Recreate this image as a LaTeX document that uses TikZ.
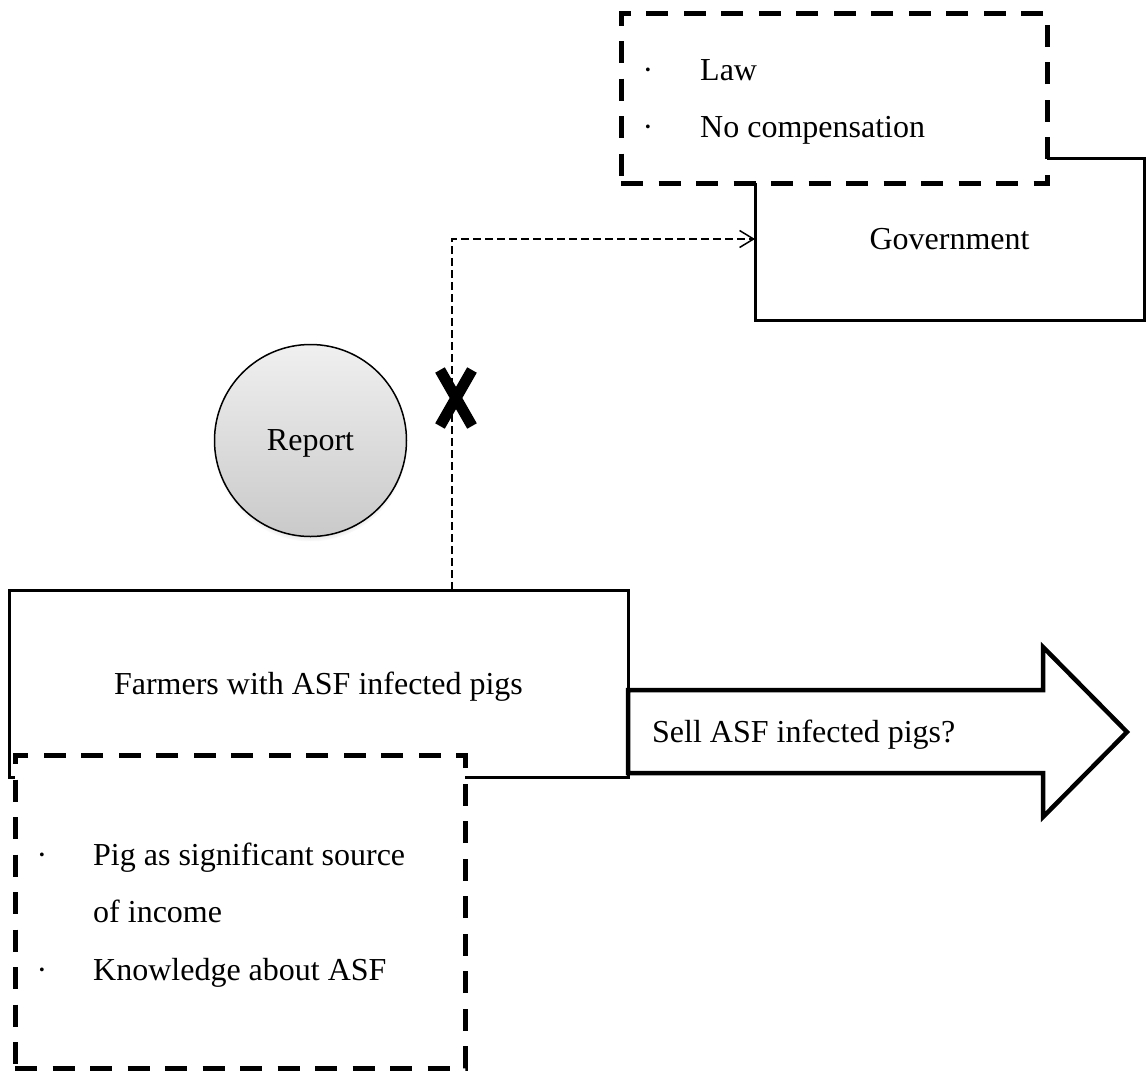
\documentclass[tikz,border=0pt]{standalone}
\usepackage{fontspec}
\setmainfont{Liberation Serif}
\usetikzlibrary{arrows.meta,shadows}
\begin{document}
\begin{tikzpicture}[x=1pt,y=-1pt,
  every node/.style={font=\fontsize{32}{38}\selectfont},
  solidbox/.style={draw, line width=3pt, fill=white, inner sep=0pt, outer sep=0pt, text depth=0pt},
  dashbox/.style={draw, line width=5pt, dash pattern=on 22pt off 15.5pt, fill=white, inner sep=0pt, outer sep=0pt},
  lbl/.style={inner sep=0pt, anchor=base west},
  bul/.style={inner sep=0pt, anchor=base},
  conn/.style={line width=1.5pt, dash pattern=on 8pt off 4pt, -{Straight Barb[length=14pt,width=17pt]}},
  blockarrow/.style={draw, line width=4.5pt, fill=white, line join=miter},
  cross/.style={line width=11pt}
]
\fill[white] (0,0) rectangle (1146,1071);
\useasboundingbox (0,0) rectangle (1146,1071);

% Government and its constraints
\node[solidbox, minimum width=389pt, minimum height=162pt] (gov) at (949.5,239) {Government};
\node[dashbox, minimum width=426pt, minimum height=170pt] (govbox) at (834,98) {};
\node[bul] (gb1) at (648,80) {·};
\node[lbl] (gt1) at (700,80) {Law};
\node[bul] (gb2) at (648,137) {·};
\node[lbl] (gt2) at (700,137) {No compensation};

% Report
\node[circle, draw, line width=1.5pt, top color=gray!12, bottom color=gray!42,
      minimum size=192pt, inner sep=0pt, text depth=0pt,
      circular drop shadow={shadow xshift=0pt, shadow yshift=-5pt, shadow scale=1.0, opacity=.45}]
      (rep) at (310.5,440.5) {Report};

% Farmers
\node[solidbox, minimum width=619pt, minimum height=187pt] (farm) at (318.5,683.5) {Farmers with ASF infected pigs};

% Sell arrow
\draw[blockarrow] (628,690) -- (1043,690) -- (1043,647) -- (1127,732) -- (1043,817) -- (1043,773) -- (628,773) -- cycle;
\node[lbl] (sell) at (652,742) {Sell ASF infected pigs?};

% Farmers' constraints
\node[dashbox, minimum width=450pt, minimum height=313pt] (farmbox) at (240,911.5) {};
\node[bul] (fb1) at (42,865) {·};
\node[lbl] (ft1) at (93,865) {Pig as significant source};
\node[lbl] (ft2) at (93,922) {of income};
\node[bul] (fb2) at (42,980) {·};
\node[lbl] (ft3) at (93,980) {Knowledge about ASF};

% Report connector (blocked)
\coordinate (xm) at (452,398);
\draw[conn] (farm.north -| xm) |- (gov.west);
\draw[cross] (440,370) -- (472,426) (472,370) -- (440,426);
\end{tikzpicture}
\end{document}
